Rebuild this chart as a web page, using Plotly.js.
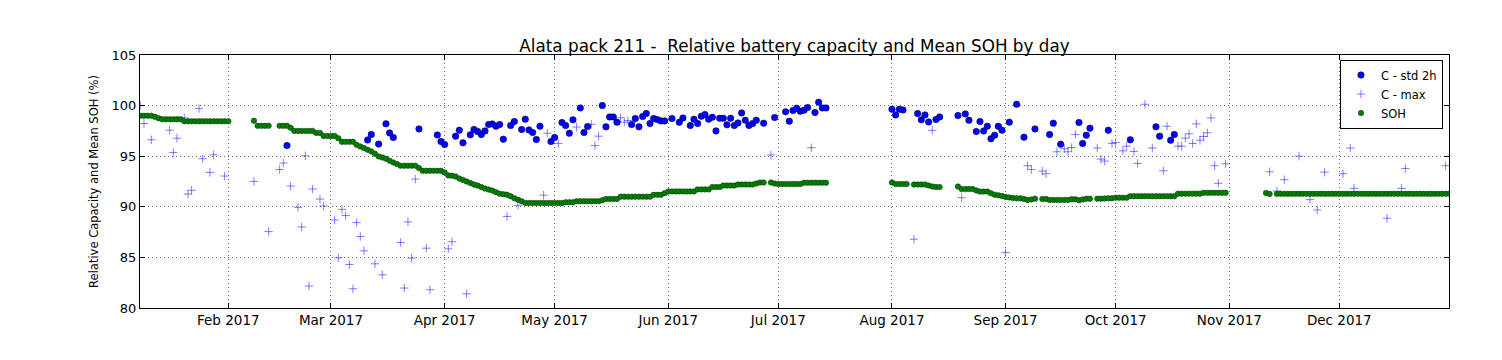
<!DOCTYPE html>
<html>
<head>
<meta charset="utf-8">
<script src="https://cdn.plot.ly/plotly-3.0.1.min.js"></script>
<style>
  html, body { margin: 0; padding: 0; background: #fff; }
  #chart { width: 1502px; height: 360px; }
</style>
</head>
<body>
<div id="chart"></div>
<script>
// ---- C - std 2h (relative capacity, blue circles) ----
var stdDates = [
  '2017-02-17','2017-03-11','2017-03-12','2017-03-14','2017-03-16','2017-03-17','2017-03-18','2017-03-25','2017-03-30','2017-03-31',
  '2017-04-01','2017-04-04','2017-04-05','2017-04-06','2017-04-08','2017-04-09','2017-04-10','2017-04-11','2017-04-12','2017-04-13',
  '2017-04-14','2017-04-15','2017-04-16','2017-04-17','2017-04-19','2017-04-20','2017-04-22','2017-04-23','2017-04-24','2017-04-25',
  '2017-04-26','2017-04-27','2017-04-30','2017-05-01','2017-05-03','2017-05-04','2017-05-05','2017-05-06','2017-05-08','2017-05-09',
  '2017-05-10','2017-05-14','2017-05-15','2017-05-16','2017-05-17','2017-05-18','2017-05-22','2017-05-23','2017-05-24','2017-05-25',
  '2017-05-26','2017-05-27','2017-05-28','2017-05-29','2017-05-30','2017-05-31','2017-06-02','2017-06-04','2017-06-05','2017-06-07',
  '2017-06-08','2017-06-09','2017-06-10','2017-06-11','2017-06-12','2017-06-13','2017-06-14','2017-06-15','2017-06-16','2017-06-17',
  '2017-06-18','2017-06-19','2017-06-20','2017-06-21','2017-06-22','2017-06-23','2017-06-24','2017-06-25','2017-06-27','2017-06-30',
  '2017-07-03','2017-07-04','2017-07-05','2017-07-06','2017-07-07','2017-07-08','2017-07-09','2017-07-11','2017-07-12','2017-07-13',
  '2017-07-14','2017-08-01','2017-08-02','2017-08-03','2017-08-04','2017-08-08','2017-08-09','2017-08-10','2017-08-11','2017-08-13',
  '2017-08-14','2017-08-19','2017-08-21','2017-08-22','2017-08-24','2017-08-25','2017-08-26','2017-08-27','2017-08-28','2017-08-29',
  '2017-08-30','2017-08-31','2017-09-02','2017-09-04','2017-09-06','2017-09-09','2017-09-13','2017-09-14','2017-09-16','2017-09-21',
  '2017-09-22','2017-09-23','2017-09-24','2017-09-29','2017-10-05','2017-10-12','2017-10-13','2017-10-16','2017-10-17'
];
var stdValues = [
  96.06, 96.6, 97.14, 96.2, 98.2, 97.3, 96.85, 97.7, 97.1, 96.45,
  96.15, 96.98, 97.57, 96.32, 97.11, 97.64, 97.44, 97.14, 97.5, 98.13,
  98.19, 97.96, 98.13, 96.68, 98.03, 98.42, 97.64, 98.65, 97.6, 97.34,
  96.65, 97.96, 96.45, 96.85, 98.33, 98.03, 97.27, 98.59, 99.77, 97.34,
  97.93, 100.0, 97.9, 98.88, 98.88, 98.36, 98.13, 98.72, 97.9, 98.92,
  99.21, 98.23, 98.72, 98.62, 98.49, 98.49, 98.72, 98.36, 98.78, 98.03,
  98.65, 98.23, 98.95, 99.11, 98.65, 98.85, 97.5, 98.75, 98.75, 98.1,
  98.75, 98.03, 98.29, 99.28, 98.55, 98.03, 98.23, 98.55, 98.26, 98.82,
  99.38, 98.46, 99.51, 99.74, 99.44, 99.54, 99.8, 99.31, 100.33, 99.77,
  99.77, 99.64, 99.08, 99.64, 99.57, 99.21, 98.59, 99.08, 98.39, 98.62,
  98.88, 99.01, 99.18, 98.55, 97.44, 98.42, 97.5, 97.96, 96.72, 97.08,
  97.96, 97.57, 98.36, 100.13, 96.88, 97.7, 97.15, 98.26, 96.19, 98.33,
  96.26, 97.08, 97.77, 97.57, 96.62, 97.9, 96.98, 96.58, 97.14
];

// ---- C - max (relative capacity, light blue crosses) ----
var maxDates = [
  '2017-01-08','2017-01-09','2017-01-11','2017-01-16','2017-01-17','2017-01-18','2017-01-20','2017-01-21','2017-01-22','2017-01-24',
  '2017-01-25','2017-01-27','2017-01-28','2017-01-31','2017-02-08','2017-02-12','2017-02-15','2017-02-16','2017-02-18','2017-02-20',
  '2017-02-21','2017-02-22','2017-02-23','2017-02-24','2017-02-26','2017-02-27','2017-03-02','2017-03-03','2017-03-04','2017-03-05',
  '2017-03-06','2017-03-07','2017-03-08','2017-03-09','2017-03-10','2017-03-13','2017-03-15','2017-03-20','2017-03-21','2017-03-22',
  '2017-03-23','2017-03-24','2017-03-27','2017-03-28','2017-04-02','2017-04-03','2017-04-07','2017-04-18','2017-04-21','2017-04-28',
  '2017-04-29','2017-05-02','2017-05-07','2017-05-11','2017-05-12','2017-05-13','2017-05-19','2017-05-20','2017-05-21','2017-06-29',
  '2017-07-10','2017-08-07','2017-08-12','2017-08-20','2017-09-01','2017-09-07','2017-09-08','2017-09-11','2017-09-12','2017-09-15',
  '2017-09-17','2017-09-18','2017-09-19','2017-09-20','2017-09-26','2017-09-27','2017-09-28','2017-09-30','2017-10-01','2017-10-03',
  '2017-10-04','2017-10-06','2017-10-07','2017-10-09','2017-10-11','2017-10-14','2017-10-15','2017-10-18','2017-10-19','2017-10-20',
  '2017-10-21','2017-10-22','2017-10-23','2017-10-24','2017-10-25','2017-10-26','2017-10-27','2017-10-28','2017-10-29','2017-10-31',
  '2017-11-12','2017-11-14','2017-11-16','2017-11-20','2017-11-23','2017-11-25','2017-11-27','2017-12-02','2017-12-04','2017-12-05',
  '2017-12-06','2017-12-14','2017-12-18','2017-12-19','2017-12-30'
];
var maxValues = [
  100.0, 98.23, 96.62, 97.57, 95.37, 96.78, 98.8, 91.26, 91.63, 99.7,
  94.75, 93.4, 95.14, 93.04, 92.51, 87.55, 93.69, 94.32, 92.05, 89.95,
  88.01, 95.04, 82.17, 91.76, 90.77, 90.08, 88.7, 84.96, 89.75, 89.13,
  84.3, 81.9, 88.44, 87.06, 85.65, 84.37, 83.28, 86.47, 81.97, 88.51,
  84.93, 92.74, 85.91, 81.8, 85.85, 86.55, 81.4, 89.05, 90.15, 91.15,
  97.27, 96.25, 97.88, 98.15, 96.05, 96.98, 98.8, 98.36, 98.53, 95.12,
  95.84, 86.8, 97.55, 90.9, 85.47, 94.06, 93.69, 93.53, 93.27, 95.44,
  95.73, 95.44, 95.86, 97.14, 95.8, 94.71, 94.52, 96.26, 96.35, 95.53,
  95.99, 95.47, 94.29, 100.13, 95.8, 93.56, 97.96, 95.99, 95.99, 96.78,
  97.21, 96.26, 98.19, 96.58, 96.95, 97.31, 98.78, 94.06, 92.32, 94.25,
  93.46, 91.56, 92.68, 95.0, 90.71, 89.69, 93.43, 93.27, 95.8, 91.82,
  98.95, 88.87, 91.82, 93.79, 94.06
];

// ---- SOH: daily mean state of health, one value per day (null = no data) ----
var sohStart = '2017-01-08';
var sohJan = [ // Jan 8 .. Jan 31
  99.0, 99.0, 99.0, 99.0, 98.9, 98.75, 98.65, 98.65, 98.65, 98.65, 98.65, 98.65,
  98.45, 98.45, 98.45, 98.45, 98.45, 98.45, 98.45, 98.45, 98.45, 98.45, 98.45, 98.45
];
var sohFeb = [
  98.45, null, null, null, null, null, null, 98.5, 98.0, 98.0, 98.0, 98.0, null, null,
  98.0, 98.0, 98.0, 97.8, 97.5, 97.5, 97.5, 97.5, 97.5, 97.5, 97.3, 97.3, 97.0, 97.0
];
var sohMar = [
  97.0, 97.0, 96.78, 96.42, 96.42, 96.42, 96.42, 96.12, 95.96, 95.8, 95.63, 95.47, 95.24, 94.98, 94.88, 94.75,
  94.55, 94.38, 94.22, 94.06, 94.06, 94.06, 94.06, 94.06, 93.83, 93.56, 93.56, 93.56, 93.56, 93.56, 93.56
];
var sohApr = [
  93.4, 93.1, 93.07, 93.0, 92.8, 92.65, 92.5, 92.35, 92.2, 92.1, 91.95, 91.8, 91.7, 91.6, 91.45,
  91.3, 91.25, 91.2, 91.05, 90.85, 90.7, 90.55, 90.38, 90.38, 90.38, 90.38, 90.38, 90.38, 90.38, 90.38
];
var sohMay = [
  90.38, 90.38, 90.38, 90.45, 90.45, 90.45, 90.55, 90.55, 90.55, 90.55, 90.55, 90.55, 90.55, 90.65, 90.78, 90.78,
  90.78, 90.78, 91.0, 91.0, 91.0, 91.0, 91.0, 91.0, 91.0, 91.0, 91.0, 91.18, 91.18, 91.18, 91.35
];
var sohJun = [
  91.52, 91.52, 91.52, 91.52, 91.52, 91.52, 91.52, 91.52, 91.72, 91.72, 91.72, 91.72, 91.95, 91.95, 91.95,
  92.1, 92.1, 92.1, 92.1, 92.2, 92.2, 92.2, 92.2, 92.2, 92.3, 92.4, 92.4, null, 92.4, 92.3
];
var sohJul = [
  92.25, 92.25, 92.25, 92.25, 92.25, 92.25, 92.25, 92.38, 92.38, 92.38, 92.38, 92.38, 92.38, 92.38,
  null, null, null, null, null, null, null, null, null, null, null, null, null, null, null, null, null
];
var sohAug = [
  92.4, 92.25, 92.25, 92.25, 92.25, null, 92.2, 92.2, 92.2, 92.2, 92.1, 92.0, 91.95, 91.95, null, null,
  null, null, 92.0, 91.75, 91.75, 91.75, 91.75, 91.62, 91.5, 91.5, 91.5, 91.33, 91.2, 91.13, 91.07
];
var sohSep = [
  90.97, 90.93, 90.87, 90.84, 90.84, 90.77, 90.67, 90.73, 90.8, null, 90.77, 90.77, 90.68, 90.68, 90.68,
  90.68, 90.68, 90.68, 90.75, 90.75, 90.65, 90.73, 90.8, 90.8, null, 90.8, 90.8, 90.82, 90.85, 90.85
];
var sohOct = [
  90.9, 90.9, 90.9, 90.9, 91.05, 91.05, 91.05, 91.05, 91.05, 91.05, 91.05, 91.05, 91.05, 91.05, 91.05, 91.05,
  91.05, 91.3, 91.3, 91.3, 91.3, 91.3, 91.3, 91.3, 91.38, 91.38, 91.38, 91.38, 91.38, 91.38, 91.38
];
var sohNov = [
  null, null, null, null, null, null, null, null, null, null, 91.37, 91.27, null, 91.28, 91.28,
  91.28, 91.28, 91.28, 91.28, 91.28, 91.28, 91.28, 91.28, 91.28, 91.28, 91.28, 91.28, 91.28, 91.28, 91.28
];
var sohDec = [
  91.28, 91.28, 91.28, 91.28, 91.28, 91.28, 91.28, 91.28, 91.28, 91.28, 91.28, 91.28, 91.28, 91.28, 91.28, 91.28,
  91.28, 91.28, 91.28, 91.28, 91.28, 91.28, 91.28, 91.28, 91.28, 91.28, 91.28, 91.28, 91.28, 91.28, 91.28
];

// build the daily date axis for SOH from its start date
var sohValues = [].concat(sohJan, sohFeb, sohMar, sohApr, sohMay, sohJun, sohJul, sohAug, sohSep, sohOct, sohNov, sohDec);
var sohDates = [];
(function () {
  var d0 = new Date(sohStart + 'T00:00:00Z');
  for (var i = 0; i < sohValues.length; i++) {
    var d = new Date(d0.getTime() + i * 86400000);
    sohDates.push(d.toISOString().slice(0, 10));
  }
})();

var FONT = 'DejaVu Sans, Liberation Sans, sans-serif';

var traces = [
  {
    type: 'scatter', mode: 'markers', name: 'C - std 2h',
    x: stdDates, y: stdValues,
    marker: { symbol: 'circle', size: 6.5, color: '#0000ff', line: { color: '#000033', width: 0.5 } }
  },
  {
    type: 'scatter', mode: 'markers', name: 'C - max',
    x: maxDates, y: maxValues,
    marker: { symbol: 'cross-thin', size: 6, color: 'rgba(0,0,255,0.55)', line: { color: 'rgba(40,40,255,0.6)', width: 1 } }
  },
  {
    type: 'scatter', mode: 'markers', name: 'SOH',
    x: sohDates, y: sohValues,
    marker: { symbol: 'circle', size: 5.5, color: '#008000', line: { color: '#0b2a0b', width: 0.5 } }
  }
];

var layout = {
  width: 1502, height: 360,
  paper_bgcolor: '#ffffff', plot_bgcolor: '#ffffff',
  margin: { l: 140, r: 53, t: 55, b: 52, pad: 0 },
  font: { family: FONT, color: '#000', size: 13 },
  title: {
    text: 'Alata pack 211 -\u00a0 Relative battery capacity and Mean SOH by day',
    font: { family: FONT, size: 16.8, color: '#000' },
    x: 0.5, xref: 'paper', xanchor: 'center',
    y: 1 - 46 / 360, yref: 'container', yanchor: 'middle'
  },
  showlegend: true,
  legend: {
    x: 0.9954, xanchor: 'right', y: 0.982, yanchor: 'top',
    bgcolor: '#ffffff', bordercolor: '#000', borderwidth: 1,
    font: { family: FONT, size: 11.5, color: '#000' }
  },
  xaxis: {
    type: 'date',
    range: ['2017-01-07 22:00', '2017-12-30 22:00'],
    tick0: '2017-01-01', dtick: 'M1', tickformat: '%b %Y',
    ticks: 'inside', ticklen: 5, tickcolor: '#000', tickwidth: 1,
    showline: true, linecolor: '#000', linewidth: 1, mirror: 'ticks',
    showgrid: true, gridcolor: '#707070', gridwidth: 1, griddash: '1px,3px',
    zeroline: false,
    tickfont: { family: FONT, size: 13.5, color: '#000' }
  },
  yaxis: {
    range: [80, 105], dtick: 5, tick0: 80,
    ticks: 'inside', ticklen: 5, tickcolor: '#000', tickwidth: 1,
    showline: true, linecolor: '#000', linewidth: 1, mirror: 'ticks',
    showgrid: true, gridcolor: '#707070', gridwidth: 1, griddash: '1px,3px',
    zeroline: false,
    tickfont: { family: FONT, size: 13, color: '#000' },
    title: { text: 'Relative Capacity and Mean SOH (%)', font: { family: FONT, size: 11.5, color: '#000' }, standoff: 10 }
  }
};

Plotly.newPlot('chart', traces, layout, { displayModeBar: false, staticPlot: true });
</script>
</body>
</html>
